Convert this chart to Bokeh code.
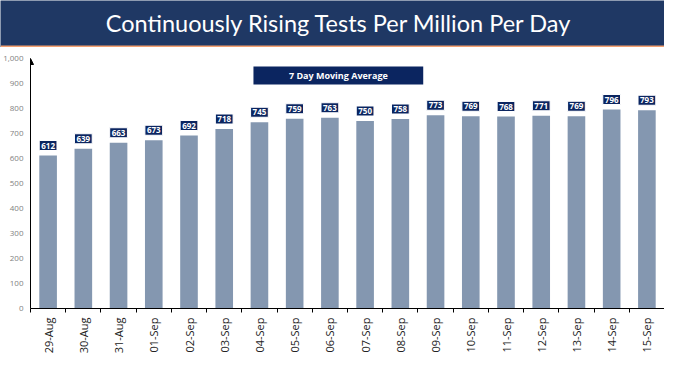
from math import pi
from bokeh.plotting import figure
from bokeh.layouts import column
from bokeh.core.properties import value
from bokeh.models import (ColumnDataSource, Range1d, LinearAxis,
                          FixedTicker, NumeralTickFormatter, Label, BoxAnnotation,
                          Arrow, NormalHead)
from bokeh.embed import file_html
from bokeh.resources import INLINE

title_text = "Continuously Rising Tests Per Million Per Day"
banner_label = "7 Day Moving Average"
dates = ["29-Aug", "30-Aug", "31-Aug", "01-Sep", "02-Sep", "03-Sep", "04-Sep", "05-Sep", "06-Sep",
         "07-Sep", "08-Sep", "09-Sep", "10-Sep", "11-Sep", "12-Sep", "13-Sep", "14-Sep", "15-Sep"]
values = [612, 639, 663, 673, 692, 718, 745, 759, 763, 750, 758, 773, 769, 768, 771, 769, 796, 793]
y_ticks = [0, 100, 200, 300, 400, 500, 600, 700, 800, 900, 1000]

NAVY = "#1f3864"
LABEL_NAVY = "#0b2560"
BAR = "#8497b0"
W = 664

# ---- banner ----
b = figure(width=W, height=47, x_range=Range1d(0, 1), y_range=Range1d(0, 47),
           output_backend="svg", toolbar_location=None, min_border=0,
           x_axis_location=None, y_axis_location=None)
b.frame_align = False
b.outline_line_color = None
b.grid.visible = False
b.background_fill_color = NAVY
b.border_fill_color = NAVY
b.add_layout(BoxAnnotation(bottom=0, top=2, fill_color="#f4a070", fill_alpha=1, line_color=None))
b.add_layout(Label(x=0.51, y=25, text=title_text, text_color="white", text_font="Lato",
                   text_font_size="23.5px", text_align="center", text_baseline="middle"))

# ---- chart ----
idx = list(range(len(dates)))
src = ColumnDataSource(dict(x=idx, top=values, lab=[str(v) for v in values]))
p = figure(width=W, height=319, x_range=Range1d(-0.5, len(dates) - 0.5), y_range=Range1d(0, 1000),
           output_backend="svg", toolbar_location=None, x_axis_location=None,
           min_border_left=26, min_border_right=0, min_border_top=11, min_border_bottom=58)
p.frame_align = False
p.outline_line_color = None
p.grid.visible = False
p.vbar(x="x", top="top", width=0.5, source=src, fill_color=BAR, line_color=None)

ya = p.yaxis[0]
ya.ticker = FixedTicker(ticks=y_ticks)
ya.formatter = NumeralTickFormatter(format="0,0")
ya.axis_line_color = "black"
ya.major_tick_out = 0
ya.major_tick_in = 0
ya.minor_tick_out = 0
ya.minor_tick_in = 0
ya.major_label_text_color = "#7f7f7f"
ya.major_label_text_font = "Open Sans"
ya.major_label_text_font_size = "8px"
ya.major_label_standoff = 7

edges = [i - 0.5 for i in range(len(dates) + 1)]
tick_axis = LinearAxis(ticker=FixedTicker(ticks=edges),
                       major_label_overrides={e: "" for e in edges},
                       axis_line_color="black", major_tick_out=4, major_tick_in=0,
                       minor_tick_out=0, minor_tick_in=0, major_label_text_font_size="1px",
                       major_label_standoff=0)
p.add_layout(tick_axis, "below")
lab_axis = LinearAxis(ticker=FixedTicker(ticks=idx),
                      major_label_overrides={i: d for i, d in zip(idx, dates)},
                      axis_line_color=None, major_tick_out=0, major_tick_in=0,
                      minor_tick_out=0, minor_tick_in=0,
                      major_label_orientation=pi / 2, major_label_text_font="Open Sans",
                      major_label_text_font_size="11px", major_label_text_color="#222222",
                      major_label_standoff=5)
p.add_layout(lab_axis, "below")

p.add_layout(Arrow(end=NormalHead(size=6, fill_color="black", line_color="black"),
                   x_start=-0.5, y_start=960, x_end=-0.5, y_end=1000, line_color="black",
                   line_width=1))

p.text(x="x", y="top", text="lab", source=src, text_align="center",
       text_baseline="bottom", y_offset=-5, text_color="white",
       text_font=value("Open Sans"), text_font_style="bold", text_font_size="8px",
       background_fill_color=LABEL_NAVY, border_line_color="white",
       border_line_width=1, padding=2)

p.add_layout(BoxAnnotation(left=5.83, right=10.65, bottom=896, top=968,
                           fill_color=LABEL_NAVY, fill_alpha=1, line_color=None))
p.add_layout(Label(x=8.24, y=932, text=banner_label, text_align="center", text_baseline="middle",
                   text_color="white", text_font="Open Sans", text_font_style="bold",
                   text_font_size="9px"))

open("out.html", "w").write(file_html(column(b, p, spacing=0), INLINE))
